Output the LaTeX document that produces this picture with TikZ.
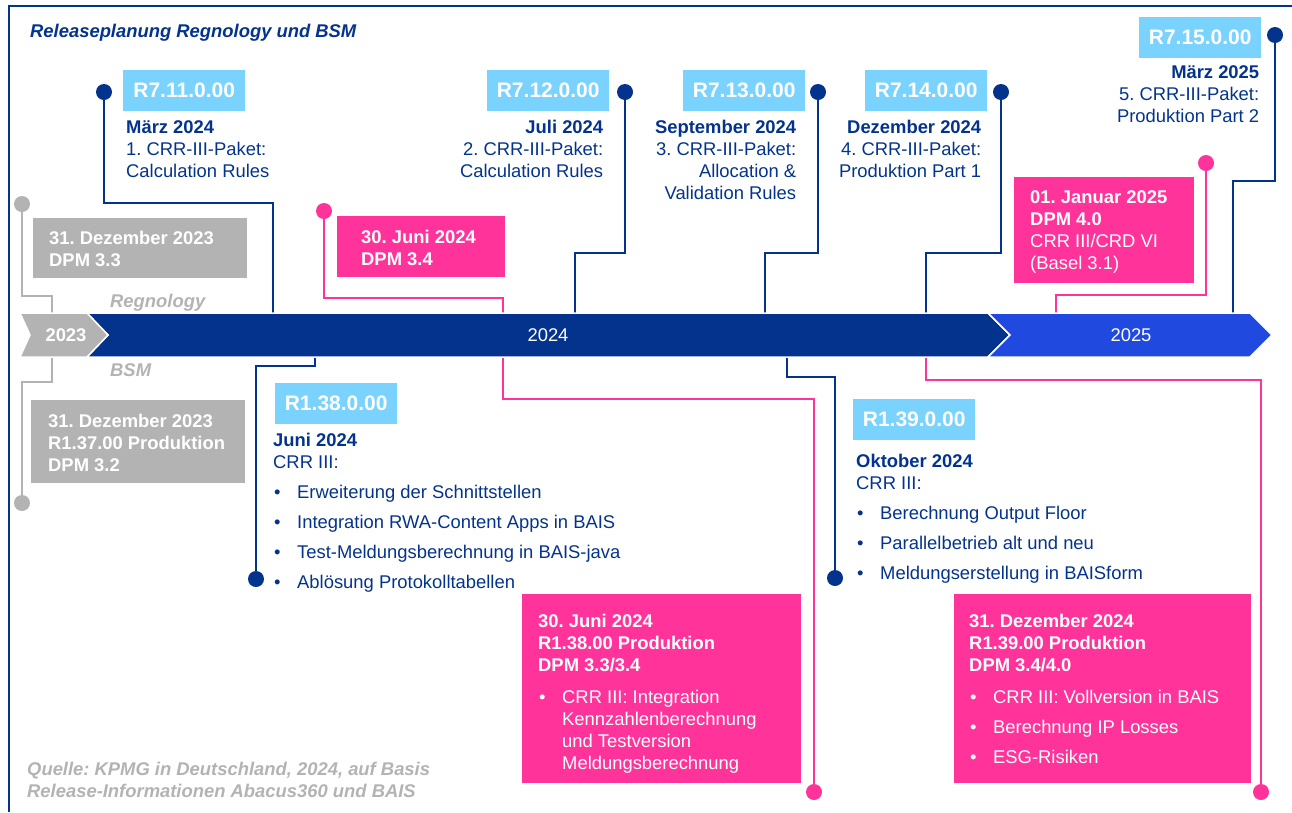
\documentclass[tikz,border=0pt]{standalone}
\usepackage{fontspec}
\setmainfont{Liberation Sans}
\usetikzlibrary{positioning}
\usetikzlibrary{calc}
\definecolor{navy}{RGB}{3,51,141}
\definecolor{skyblue}{RGB}{122,210,255}
\definecolor{hotpink}{RGB}{255,51,153}
\definecolor{silver}{RGB}{179,179,179}
\definecolor{royal}{RGB}{32,73,224}
\newcommand\bodyfs{\fontsize{18.4pt}{22pt}\selectfont}
\newcommand\bitem[1]{\makebox[24pt][l]{\hspace{1pt}\textbullet}#1}
\frenchspacing

\begin{document}
\begin{tikzpicture}[
    x=1pt, y=-1pt,
    % node styles
    rel/.style = {
      fill=skyblue,
      anchor=north west,
      minimum width=122pt,
      minimum height=41pt,
      inner sep=0pt,
      font=\bfseries\fontsize{21pt}{24pt}\selectfont,
      text=white
    },
    card/.style = {anchor=north west, inner sep=0pt},
    txt/.style = {inner sep=0pt, align=left, anchor=north west, font=\bodyfs, text=navy},
    txtr/.style = {inner sep=0pt, align=right, anchor=north east, font=\bodyfs, text=navy},
    wtxt/.style = {txt, text=white},
    lbl/.style = {inner sep=0pt, anchor=base west, font=\bfseries\itshape\bodyfs},
    bead/.style = {circle, inner sep=0pt, minimum size=16pt},
    yr/.style = {inner sep=0pt, font=\bodyfs, text=white},
    % line styles
    navyline/.style = {line width=2.2pt, draw=navy},
    pinkline/.style = {line width=2.2pt, draw=hotpink},
    greyline/.style = {line width=2pt, draw=silver},
    band/.style = {draw=white, line width=1.5pt}
  ]
  \useasboundingbox (0,0) rectangle (1292,812);

  % --- frame and title
  \draw[line width=2.5pt, navy] (1292,6) -| (9,812);
  \node[lbl, text=navy] (title) at (30,37) {Releaseplanung Regnology und BSM};

  % --- dots
  \node[bead, fill=navy] (d711) at (104,92) {};
  \node[bead, fill=navy] (d712) at (625,92) {};
  \node[bead, fill=navy] (d713) at (818,92) {};
  \node[bead, fill=navy] (d714) at (1001,92) {};
  \node[bead, fill=navy] (d715) at (1275,35) {};
  \node[bead, fill=hotpink] (dp34) at (324,211) {};
  \node[bead, fill=hotpink] (dp40) at (1206,163) {};
  \node[bead, fill=silver] (dg33) at (22,204) {};
  \node[bead, fill=silver] (dg32) at (22,503) {};
  \node[bead, fill=navy] (d138) at (256,579) {};
  \node[bead, fill=navy] (d139) at (835,578) {};
  \node[bead, fill=hotpink] (dp138) at (814,792) {};
  \node[bead, fill=hotpink] (dp139) at (1261,792) {};

  % --- points on the band
  \coordinate (a711) at (273,335);
  \coordinate (a712) at (575,335);
  \coordinate (a713) at (765,335);
  \coordinate (a714) at (926,335);
  \coordinate (a715) at (1233,335);
  \coordinate (a34) at (503,335);
  \coordinate (a40) at (1056,335);
  \coordinate (ag) at (52,335);
  \coordinate (a138) at (315,335);
  \coordinate (a139) at (787,335);

  % --- connectors
  \draw[navyline] (d711) -- ++(0,111) -| (a711);
  \draw[navyline] (d712) -- ++(0,161) -| (a712);
  \draw[navyline] (d713) -- ++(0,161) -| (a713);
  \draw[navyline] (d714) -- ++(0,161) -| (a714);
  \draw[navyline] (d715) -- ++(0,146) -| (a715);
  \draw[pinkline] (dp34) -- ++(0,87) -| (a34);
  \draw[pinkline] (dp40) -- ++(0,132) -| (a40);
  \draw[greyline] (dg33) -- ++(0,92) -| (ag);
  \draw[greyline] (ag) -- ++(0,47) -| (dg32);
  \draw[navyline] (a138) -- ++(0,31) -| (d138);
  \draw[pinkline] (a34) -- ++(0,64) -| (dp138);
  \draw[navyline] (a139) -- ++(0,42) -| (d139);
  \draw[pinkline] (a714) -- ++(0,45) -| (dp139);

  % --- timeline band
  \fill[navy, band] (87,313) -- (988,313) -- (1010,335) -- (988,357) -- (87,357) -- (108,335) -- cycle;
  \fill[royal, band] (988,313) -- (1250,313) -- (1272,335) -- (1250,357) -- (988,357) -- (1010,335) -- cycle;
  \fill[silver, band] (20,313) -- (87,313) -- (108,335) -- (87,357) -- (20,357) -- (30,335) -- cycle;
  \node[yr, font=\bfseries\bodyfs] (y2023) at (66,335) {2023};
  \node[yr] (y2024) at (548,335) {2024};
  \node[yr] (y2025) at (1131,335) {2025};
  \node[lbl, text=silver] (regn) at (110,307) {Regnology};
  \node[lbl, text=silver] (bsm) at (110,376) {BSM};

  % --- Regnology releases
  \node[rel] (r711) at (123,70) {R7.11.0.00};
  \node[txt] (t711) at ([shift={(3,9)}]r711.south west) {\textbf{März 2024}\\1. CRR-III-Paket:\\Calculation Rules};
  \node[rel] (r712) at (487,70) {R7.12.0.00};
  \node[txtr] (t712) at ([shift={(-6,9)}]r712.south east) {\textbf{Juli 2024}\\2. CRR-III-Paket:\\Calculation Rules};
  \node[rel] (r713) at (683,70) {R7.13.0.00};
  \node[txtr] (t713) at ([shift={(-9,9)}]r713.south east) {\textbf{September 2024}\\3. CRR-III-Paket:\\Allocation \&\\Validation Rules};
  \node[rel] (r714) at (865,70) {R7.14.0.00};
  \node[txtr] (t714) at ([shift={(-6,9)}]r714.south east) {\textbf{Dezember 2024}\\4. CRR-III-Paket:\\Produktion Part 1};
  \node[rel] (r715) at (1139,17) {R7.15.0.00};
  \node[txtr] (t715) at ([shift={(-2,7)}]r715.south east) {\textbf{März 2025}\\5. CRR-III-Paket:\\Produktion Part 2};

  % --- DPM cards
  \node[card, fill=silver, minimum width=214pt, minimum height=60pt] (g33) at (33,218) {};
  \node[wtxt, font=\bfseries\bodyfs] (tg33) at ([shift={(16,13)}]g33.north west) {31. Dezember 2023\\DPM 3.3};
  \node[card, fill=silver, minimum width=214pt, minimum height=83pt] (g32) at (31,400) {};
  \node[wtxt, font=\bfseries\bodyfs] (tg32) at ([shift={(17,14)}]g32.north west) {31. Dezember 2023\\R1.37.00 Produktion\\DPM 3.2};
  \node[card, fill=hotpink, minimum width=168pt, minimum height=61pt] (p34) at (337,216) {};
  \node[wtxt, font=\bfseries\bodyfs] (tp34) at ([shift={(24,14)}]p34.north west) {30. Juni 2024\\DPM 3.4};
  \node[card, fill=hotpink, minimum width=180pt, minimum height=106pt] (p40) at (1014,177) {};
  \node[wtxt] (tp40) at ([shift={(16,13)}]p40.north west) {\textbf{01. Januar 2025}\\\textbf{DPM 4.0}\\CRR III/CRD VI\\(Basel 3.1)};

  % --- BSM releases
  \node[rel] (r138) at (275,383) {R1.38.0.00};
  \node[txt] (t138) at ([shift={(-2,9)}]r138.south west) {\textbf{Juni 2024}\\CRR III:\\[8pt]\bitem{Erweiterung der Schnittstellen}\\[8pt]\bitem{Integration RWA-Content Apps in BAIS}\\[8pt]\bitem{Test-Meldungsberechnung in BAIS-java}\\[8pt]\bitem{Ablösung Protokolltabellen}};
  \node[rel] (r139) at (853,399) {R1.39.0.00};
  \node[txt] (t139) at ([shift={(3,14)}]r139.south west) {\textbf{Oktober 2024}\\CRR III:\\[8pt]\bitem{Berechnung Output Floor}\\[8pt]\bitem{Parallelbetrieb alt und neu}\\[8pt]\bitem{Meldungserstellung in BAISform}};

  \node[card, fill=hotpink, minimum width=279pt, minimum height=189pt] (p138) at (522,594) {};
  \node[wtxt] (tp138) at ([shift={(16,20)}]p138.north west) {\textbf{30. Juni 2024}\\\textbf{R1.38.00 Produktion}\\\textbf{DPM 3.3/3.4}\\[10pt]\bitem{CRR III: Integration}\\\hspace*{24pt}Kennzahlenberechnung\\\hspace*{24pt}und Testversion\\\hspace*{24pt}Meldungsberechnung};
  \node[card, fill=hotpink, minimum width=297pt, minimum height=189pt] (p139) at (954,594) {};
  \node[wtxt] (tp139) at ([shift={(15,20)}]p139.north west) {\textbf{31. Dezember 2024}\\\textbf{R1.39.00 Produktion}\\\textbf{DPM 3.4/4.0}\\[10pt]\bitem{CRR III: Vollversion in BAIS}\\[8pt]\bitem{Berechnung IP Losses}\\[8pt]\bitem{ESG-Risiken}};

  % --- source
  \node[txt, font=\bfseries\itshape\bodyfs, text=silver] (src) at (27,762) {Quelle: KPMG in Deutschland, 2024, auf Basis\\Release-Informationen Abacus360 und BAIS};

\end{tikzpicture}
\end{document}
